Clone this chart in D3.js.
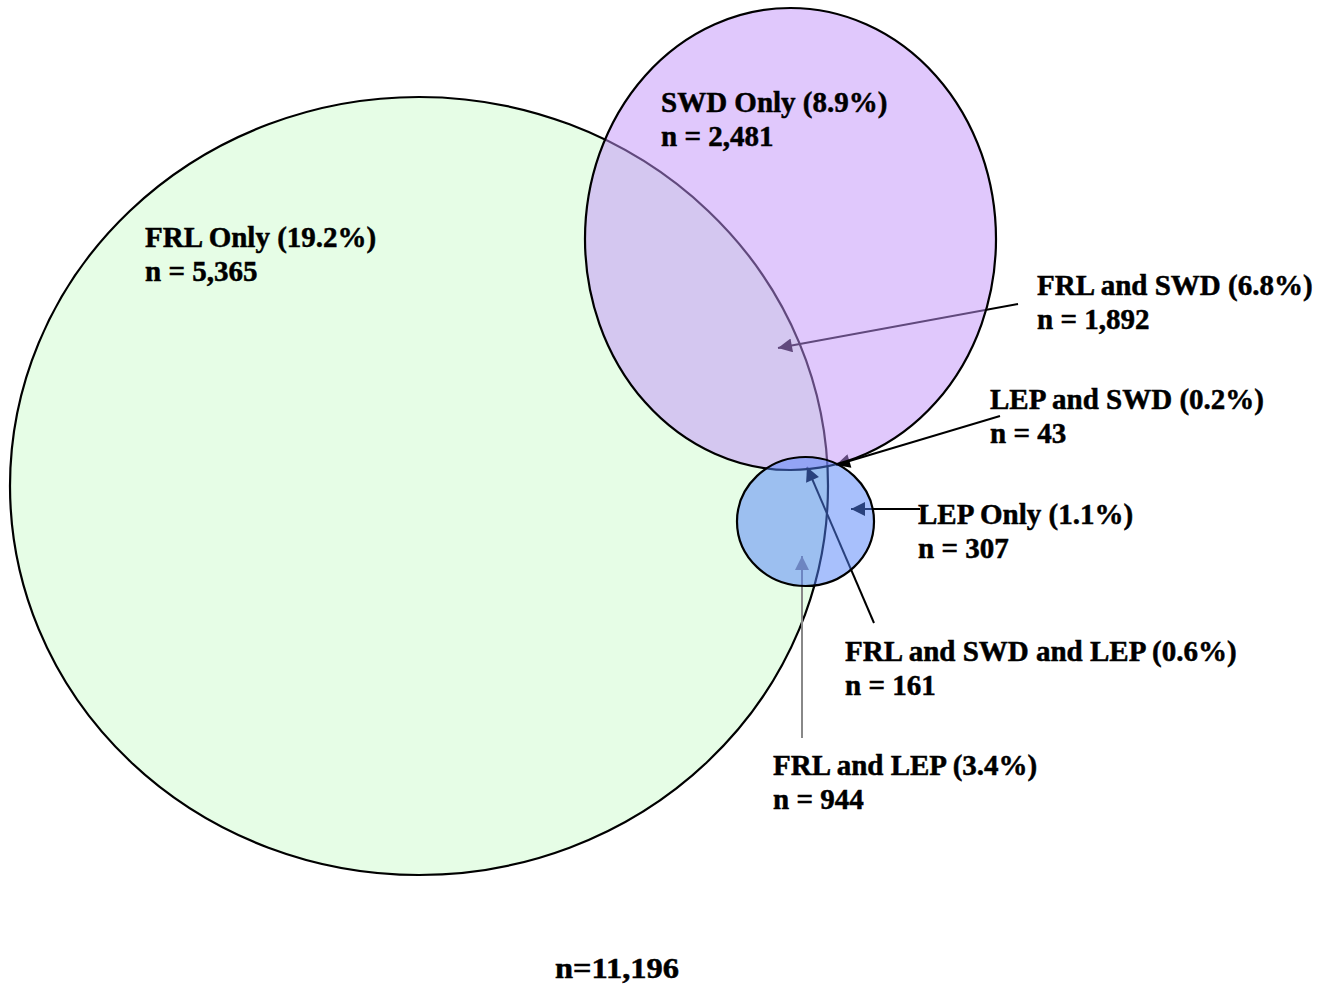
<!DOCTYPE html>
<html>
<head>
<meta charset="utf-8">
<script src="https://cdn.jsdelivr.net/npm/d3@7"></script>
<style>
  html, body { margin: 0; padding: 0; background: #fff; }
  text { font-family: "Liberation Serif", "Times New Roman", serif; font-weight: bold; stroke: #000; stroke-width: 0.5px; }
</style>
</head>
<body>
<div id="chart"></div>
<script>
// Groups (circles) and the regions of the diagram.
const groups = ['FRL', 'SWD', 'LEP'];
const regionNames = ['FRL Only', 'SWD Only', 'FRL and SWD', 'LEP and SWD', 'LEP Only', 'FRL and SWD and LEP', 'FRL and LEP'];
const regionPercents = [19.2, 8.9, 6.8, 0.2, 1.1, 0.6, 3.4];
const regionCounts = [5365, 2481, 1892, 43, 307, 161, 944];
const totalCount = 11196;

// Layout (pixel positions of the shapes and callouts).
const width = 1338;
const height = 988;
const fontSize = 29;
const lineGap = 34;

const ellipses = [
  { cx: 419, cy: 486, rx: 409, ry: 389, fill: '#e6fde6', opacity: 1 },
  { cx: 790.5, cy: 239, rx: 205.5, ry: 231, fill: '#c291fa', opacity: 0.5 },
  { cx: 805.5, cy: 521.5, rx: 68.5, ry: 64.5, fill: '#5181f9', opacity: 0.5 }
];

// Label anchor [x, baseline] and arrow [fromX, fromY, toX, toY] for each region.
const labelPos = [[145, 247], [661, 112], [1037, 295], [990, 409], [918, 524], [845, 661], [773, 775]];
const arrows = [null, null, [1018, 304, 778, 348], [1000, 416, 836, 465], [920, 509, 851, 509], [874, 623, 807, 467], [802, 738, 802, 556]];
const arrowColors = [null, null, '#000', '#000', '#000', '#000', '#888'];

const fmt = d3.format(',');

const svg = d3.select('#chart')
  .append('svg')
  .attr('width', width)
  .attr('height', height);

const defs = svg.append('defs');
['#000', '#888'].forEach((c, i) => {
  defs.append('marker')
    .attr('id', 'head' + i)
    .attr('viewBox', '0 0 10 10')
    .attr('refX', 10)
    .attr('refY', 5)
    .attr('markerUnits', 'userSpaceOnUse')
    .attr('markerWidth', 20)
    .attr('markerHeight', 14)
    .attr('orient', 'auto')
    .append('path')
    .attr('d', 'M0,0L10,5L0,10Z')
    .attr('fill', c);
});

const drawEllipse = i => {
  const e = ellipses[i];
  svg.append('ellipse')
    .attr('class', 'group-' + groups[i])
    .attr('cx', e.cx)
    .attr('cy', e.cy)
    .attr('rx', e.rx)
    .attr('ry', e.ry)
    .attr('fill', e.fill)
    .attr('fill-opacity', e.opacity)
    .attr('stroke', '#000')
    .attr('stroke-width', 2.2);
};

// FRL first, then the arrows, then the translucent SWD and LEP on top.
drawEllipse(0);

svg.append('g')
  .selectAll('line')
  .data(arrows.map((a, i) => ({ a, i })).filter(d => d.a))
  .join('line')
  .attr('x1', d => d.a[0])
  .attr('y1', d => d.a[1])
  .attr('x2', d => d.a[2])
  .attr('y2', d => d.a[3])
  .attr('stroke', d => arrowColors[d.i])
  .attr('stroke-width', 2)
  .attr('marker-end', d => arrowColors[d.i] === '#888' ? 'url(#head1)' : 'url(#head0)');

drawEllipse(1);
drawEllipse(2);

// Region labels.
const labels = svg.append('g')
  .selectAll('text')
  .data(regionNames.map((name, i) => ({ name, i })))
  .join('text')
  .attr('x', d => labelPos[d.i][0])
  .attr('y', d => labelPos[d.i][1])
  .style('font-size', fontSize + 'px')
  .attr('fill', '#000');

labels.append('tspan')
  .text(d => d.name + ' (' + regionPercents[d.i].toFixed(1) + '%)');

labels.append('tspan')
  .attr('x', d => labelPos[d.i][0])
  .attr('dy', lineGap)
  .text(d => 'n = ' + fmt(regionCounts[d.i]));

// Total, set slightly wider like the original.
svg.append('text')
  .attr('x', 555)
  .attr('y', 978)
  .style('font-size', fontSize + 'px')
  .attr('textLength', 124)
  .attr('lengthAdjust', 'spacingAndGlyphs')
  .text('n=' + fmt(totalCount));
</script>
</body>
</html>
